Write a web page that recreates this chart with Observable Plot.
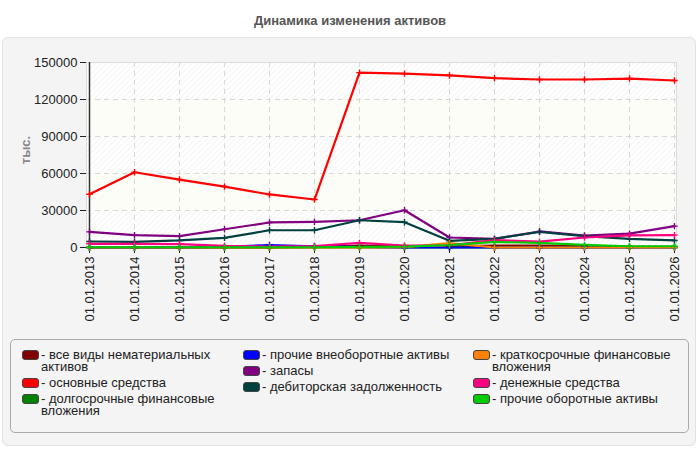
<!DOCTYPE html>
<html>
<head>
<meta charset="utf-8">
<script src="https://cdn.jsdelivr.net/npm/d3@7"></script>
<script src="https://cdn.jsdelivr.net/npm/@observablehq/plot@0.6"></script>
<style>
  html, body { margin: 0; padding: 0; background: #fff; }
  body { font-family: "Liberation Sans", Arial, sans-serif; }
  #page { position: relative; width: 700px; height: 450px; overflow: hidden; }
  #title { position: absolute; left: 0; top: 13px; width: 700px; text-align: center;
           font-weight: bold; font-size: 13px; color: #555; }
  #panel { position: absolute; left: 2px; top: 37px; width: 694px; height: 409px;
           background: #f4f4f4; border: 1px solid #e2e2e2; border-radius: 6px; box-sizing: border-box; }
  #chart { position: absolute; left: 0; top: 0; }
  #ylabel { position: absolute; left: 25px; top: 150px; transform: translate(-50%, -50%) rotate(-90deg);
            font-weight: bold; font-size: 13px; color: #888; }
  #legend { position: absolute; left: 10px; top: 339px; width: 679px; height: 94px; box-sizing: border-box;
            border: 1px solid #aaa; border-radius: 5px; background: #f4f4f4; }
  .col { position: absolute; top: 9px; }
  .item { display: flex; align-items: flex-start; margin-bottom: 4px; font-size: 13px; line-height: 12px; color: #222; }
  .sw { width: 15px; height: 8px; border: 1px solid #444; border-radius: 3px; margin-top: 1px; flex: none; }
  .txt { margin-left: 2px; }
</style>
</head>
<body>
<div id="page">
  <div id="title">Динамика изменения активов</div>
  <div id="panel"></div>
  <div id="chart"></div>
  <div id="ylabel">тыс.</div>
  <div id="legend"></div>
</div>
<script>
const years = ["01.01.2013","01.01.2014","01.01.2015","01.01.2016","01.01.2017","01.01.2018","01.01.2019",
               "01.01.2020","01.01.2021","01.01.2022","01.01.2023","01.01.2024","01.01.2025","01.01.2026"];
const yTicks = [0, 30000, 60000, 90000, 120000, 150000];

const seriesNames = [
  "все виды нематериальных активов",
  "основные средства",
  "долгосрочные финансовые вложения",
  "прочие внеоборотные активы",
  "запасы",
  "дебиторская задолженность",
  "краткосрочные финансовые вложения",
  "денежные средства",
  "прочие оборотные активы"
];
const seriesColors = ["#800000","#ff0000","#008000","#0000ff","#800080","#004040","#ff8000","#ff0080","#00cc00"];

const intangible   = [0, 0, 0, 0, 0, 500, 1500, 1000, 1000, 1500, 1500, 1200, 500, 500];
const fixedAssets  = [43200, 61000, 55100, 49400, 43000, 38900, 141800, 141000, 139500, 137300, 136200, 136200, 137000, 135400];
const longTermFin  = [0, 0, 0, 0, 0, 0, 0, 0, 0, 0, 0, 0, 0, 0];
const otherNonCur  = [0, 0, 100, 500, 2000, 1000, 500, 0, 0, 0, 0, 0, 0, 0];
const inventory    = [12650, 9970, 9160, 14800, 20300, 20800, 22100, 30200, 8100, 7000, 13000, 9700, 11300, 17300];
const receivables  = [4860, 4600, 5700, 7800, 14000, 14000, 22100, 20500, 5400, 7000, 12700, 9200, 7000, 5700];
const shortTermFin = [0, 0, 0, 0, 0, 0, 0, 300, 3500, 0, 0, 0, 0, 0];
const cash         = [3000, 3000, 2800, 1300, 800, 1200, 3800, 1500, 1700, 6000, 4800, 8100, 9800, 10000];
const otherCur     = [200, 200, 200, 200, 200, 200, 500, 700, 1900, 4500, 3700, 2100, 1000, 1000];

const seriesValues = [intangible, fixedAssets, longTermFin, otherNonCur, inventory, receivables, shortTermFin, cash, otherCur];

const rows = [];
seriesNames.forEach((name, s) => {
  seriesValues[s].forEach((v, i) => rows.push({series: name, date: years[i], value: v}));
});

const bands = yTicks.slice(0, -1).map((t, i) => ({y1: t, y2: yTicks[i + 1], hatch: i % 2 === 0}));

const chart = Plot.plot({
  width: 700,
  height: 340,
  marginLeft: 86,
  marginRight: 24,
  marginTop: 62,
  marginBottom: 93,
  style: {background: "transparent", fontFamily: "'Liberation Sans', Arial, sans-serif", fontSize: "13px", color: "#222"},
  x: {type: "point", domain: years, padding: 0, label: null},
  y: {domain: [0, 150000], label: null},
  color: {domain: seriesNames, range: seriesColors},
  marks: [
    Plot.rectY(bands.filter(d => d.hatch), {y1: "y1", y2: "y2", fill: "#ffffff"}),
    Plot.rectY(bands.filter(d => d.hatch), {y1: "y1", y2: "y2", fill: "url(#hatch)"}),
    Plot.rectY(bands.filter(d => !d.hatch), {y1: "y1", y2: "y2", fill: "#fdfdf8"}),
    Plot.gridX({stroke: "#d8d8d8", strokeOpacity: 1, strokeDasharray: "5,4"}),
    Plot.gridY(yTicks, {stroke: "#d8d8d8", strokeOpacity: 1, strokeDasharray: "5,4"}),
    Plot.frame({stroke: "#dcdcdc"}),
    Plot.axisY(yTicks, {tickSize: 6, tickPadding: 3, tickFormat: d => String(d), fontSize: 13, label: null}),
    Plot.axisX({tickRotate: -90, tickSize: 6, tickPadding: 3, fontSize: 13, label: null}),
    Plot.ruleX([years[0]], {stroke: "#333", strokeWidth: 1.5}),
    Plot.ruleY([0], {stroke: "#333"}),
    Plot.line(rows, {x: "date", y: "value", z: "series", stroke: "series", strokeWidth: 2.2}),
    Plot.dot(rows, {x: "date", y: "value", stroke: "series", symbol: "plus", r: 2.2, strokeWidth: 1.4})
  ]
});

const defs = d3.create("svg:defs");
const pat = defs.append("pattern").attr("id", "hatch").attr("patternUnits", "userSpaceOnUse")
  .attr("width", 4).attr("height", 4).attr("patternTransform", "rotate(45)");
pat.append("line").attr("x1", 0).attr("y1", 0).attr("x2", 0).attr("y2", 4)
  .attr("stroke", "#ececec").attr("stroke-width", 1.2);
chart.insertBefore(defs.node(), chart.firstChild);

document.getElementById("chart").appendChild(chart);

// legend
const legend = document.getElementById("legend");
const columns = [[0, 1, 2], [3, 4, 5], [6, 7, 8]];
const colLeft = [11, 232, 462];
const colWidth = [205, 215, 210];
columns.forEach((idxs, c) => {
  const col = document.createElement("div");
  col.className = "col";
  col.style.left = colLeft[c] + "px";
  col.style.width = colWidth[c] + "px";
  idxs.forEach(i => {
    const it = document.createElement("div");
    it.className = "item";
    const sw = document.createElement("div");
    sw.className = "sw";
    sw.style.background = seriesColors[i];
    const tx = document.createElement("div");
    tx.className = "txt";
    tx.textContent = "- " + seriesNames[i];
    it.appendChild(sw);
    it.appendChild(tx);
    col.appendChild(it);
  });
  legend.appendChild(col);
});
</script>
</body>
</html>
